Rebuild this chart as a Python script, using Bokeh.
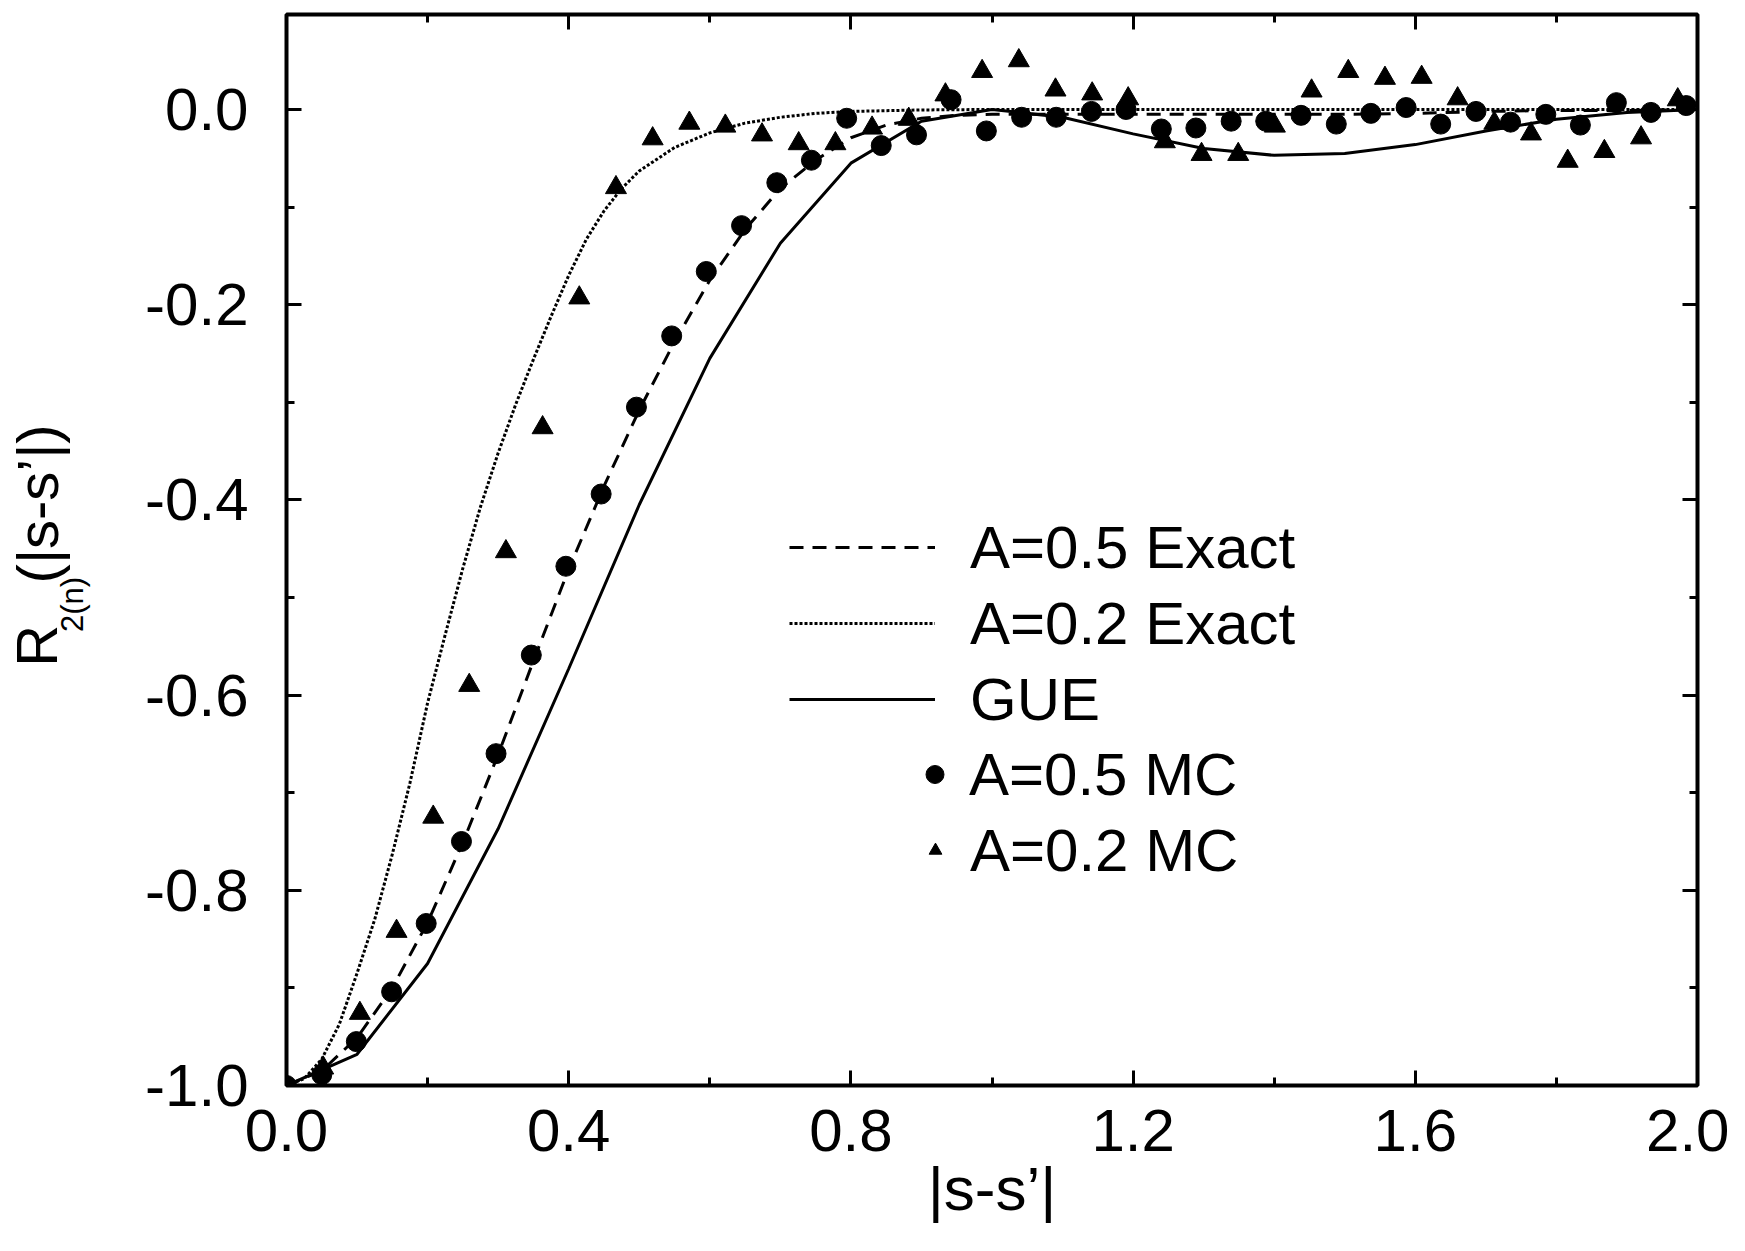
import math
from bokeh.plotting import figure
from bokeh.layouts import row
from bokeh.models import (Range1d, FixedTicker, LinearAxis, Legend, LegendItem,
                          CustomJSTickFormatter, NumeralTickFormatter, ColumnDataSource)
from bokeh.core.properties import value
from bokeh.embed import file_html
from bokeh.resources import INLINE

FONT = "Liberation Sans"

# ---------------- data ----------------
x_gue = [0.0, 0.1, 0.2, 0.3, 0.4, 0.5, 0.6, 0.7, 0.8, 0.9, 1.0,
         1.1, 1.2, 1.3, 1.4, 1.5, 1.6, 1.7, 1.8, 1.9, 2.0]
r_gue = [-1.0, -0.968, -0.875, -0.737, -0.573, -0.405, -0.255, -0.137, -0.055, -0.012, 0.0,
         -0.008, -0.025, -0.040, -0.047, -0.045, -0.036, -0.022, -0.010, -0.003, 0.0]

x_exact05 = [0.0, 0.05, 0.1, 0.15, 0.2, 0.25, 0.3, 0.35, 0.4, 0.45, 0.5, 0.55, 0.6, 0.65,
             0.7, 0.75, 0.8, 0.85, 0.9, 0.95, 1.0, 1.1, 1.2, 1.3, 1.4, 1.5, 1.6, 1.7, 1.8,
             1.9, 2.0]
r_exact05 = [-1.0, -0.985, -0.951, -0.900, -0.833, -0.751, -0.661, -0.565, -0.471, -0.386,
             -0.308, -0.238, -0.175, -0.123, -0.081, -0.052, -0.029, -0.016, -0.009, -0.006,
             -0.005, -0.005, -0.005, -0.005, -0.005, -0.005, -0.004, -0.002, -0.001, -0.001,
             0.0]

x_exact02 = [0.0, 0.025, 0.05, 0.075, 0.1, 0.125, 0.15, 0.175, 0.2, 0.225, 0.25, 0.275,
             0.3, 0.325, 0.35, 0.375, 0.4, 0.425, 0.45, 0.475, 0.5, 0.55, 0.6, 0.65, 0.7,
             0.75, 0.8, 0.9, 1.0, 1.5, 2.0]
r_exact02 = [-1.0, -0.993, -0.973, -0.937, -0.885, -0.830, -0.763, -0.690, -0.608, -0.538,
             -0.470, -0.407, -0.352, -0.302, -0.256, -0.212, -0.170, -0.133, -0.104, -0.081,
             -0.063, -0.039, -0.024, -0.014, -0.008, -0.004, -0.002, -0.0005, 0.0, 0.0, 0.0]

x_mc05 = [0.000, 0.050, 0.099, 0.149, 0.198, 0.248, 0.297, 0.347, 0.396, 0.446, 0.496,
          0.546, 0.595, 0.645, 0.695, 0.744, 0.794, 0.843, 0.893, 0.942, 0.992, 1.042,
          1.091, 1.141, 1.190, 1.240, 1.289, 1.339, 1.388, 1.438, 1.488, 1.537, 1.587,
          1.636, 1.686, 1.735, 1.785, 1.834, 1.885, 1.934, 1.984]
r_mc05 = [-1.000, -0.989, -0.955, -0.904, -0.834, -0.750, -0.660, -0.559, -0.468, -0.394,
          -0.305, -0.232, -0.166, -0.119, -0.075, -0.052, -0.009, -0.037, -0.026, 0.010,
          -0.022, -0.008, -0.008, -0.002, 0.000, -0.020, -0.019, -0.012, -0.012, -0.006,
          -0.015, -0.004, 0.002, -0.015, -0.002, -0.013, -0.005, -0.016, 0.007, -0.003,
          0.004]

x_mc02 = [0.000, 0.052, 0.104, 0.156, 0.208, 0.259, 0.311, 0.363, 0.415, 0.467, 0.519,
          0.571, 0.622, 0.674, 0.726, 0.778, 0.830, 0.882, 0.934, 0.986, 1.038, 1.090,
          1.142, 1.193, 1.245, 1.297, 1.349, 1.401, 1.453, 1.505, 1.557, 1.609, 1.660,
          1.712, 1.764, 1.816, 1.868, 1.920, 1.972]
r_mc02 = [-1.000, -0.982, -0.926, -0.842, -0.725, -0.590, -0.453, -0.326, -0.193, -0.080,
          -0.030, -0.014, -0.017, -0.026, -0.035, -0.035, -0.019, -0.010, 0.015, 0.039,
          0.050, 0.020, 0.016, 0.011, -0.033, -0.046, -0.046, -0.017, 0.019, 0.039, 0.032,
          0.033, 0.011, -0.014, -0.025, -0.053, -0.043, -0.029, 0.010]

x_ticks = [0.0, 0.4, 0.8, 1.2, 1.6, 2.0]
x_tick_labels = ["0.0", "0.4", "0.8", "1.2", "1.6", "2.0"]
x_minor = [0.2, 0.6, 1.0, 1.4, 1.8]
y_ticks = [-1.0, -0.8, -0.6, -0.4, -0.2, 0.0]
y_tick_labels = ["-1.0", "-0.8", "-0.6", "-0.4", "-0.2", "0.0"]
y_minor = [-0.9, -0.7, -0.5, -0.3, -0.1]

series_labels = ["A=0.5 Exact", "A=0.2 Exact", "GUE", "A=0.5 MC", "A=0.2 MC"]
x_title = "|s-s\u2019|"
y_title_parts = ["R", "2(n)", "(|s-s\u2019|)"]

TOTAL_W, TOTAL_H = 1729, 1235
TITLE_W = 110          # narrow strip at the left that carries the y-axis title

# ---------------- y-axis title strip (pixel coordinates) ----------------
pt = figure(width=TITLE_W, height=TOTAL_H, x_range=Range1d(0, TITLE_W),
            y_range=Range1d(0, TOTAL_H), output_backend="svg", toolbar_location=None,
            x_axis_location=None, y_axis_location=None, min_border=0)
pt.outline_line_color = None
pt.xgrid.visible = False
pt.ygrid.visible = False
pt.background_fill_color = "white"
pt.border_fill_color = "white"
title_src = ColumnDataSource(dict(
    x=[36, 72, 37],
    y=[TOTAL_H - 752, TOTAL_H - 712, TOTAL_H - 656],
    text=y_title_parts,
    size=["58px", "31px", "58px"],
))
pt.text(x="x", y="y", text="text", source=title_src, angle=math.pi / 2,
        text_font=value(FONT), text_font_size="size", text_align="left",
        text_baseline="alphabetic", text_color="black")

# ---------------- main figure ----------------
p = figure(width=TOTAL_W - TITLE_W, height=TOTAL_H, x_range=Range1d(0, 2.0),
           y_range=Range1d(-1.0, 0.0973), output_backend="svg", toolbar_location=None,
           min_border_left=286 - TITLE_W, min_border_right=32, min_border_top=14,
           min_border_bottom=150)
p.background_fill_color = "white"
p.border_fill_color = "white"
p.outline_line_color = "black"
p.outline_line_width = 4
p.xgrid.visible = False
p.ygrid.visible = False


def style_axis(ax):
    ax.axis_line_color = None
    ax.major_tick_in = 15
    ax.major_tick_out = 0
    ax.minor_tick_in = 8
    ax.minor_tick_out = 0
    ax.major_tick_line_width = 3
    ax.minor_tick_line_width = 3
    ax.major_tick_line_color = "black"
    ax.minor_tick_line_color = "black"
    ax.major_label_text_font = FONT
    ax.major_label_text_font_size = "60px"
    ax.major_label_text_color = "black"
    ax.major_label_text_font_style = "normal"


xt = FixedTicker(ticks=x_ticks, minor_ticks=x_minor)
yt = FixedTicker(ticks=y_ticks, minor_ticks=y_minor)

xa = p.xaxis[0]
xa.ticker = xt
xa.formatter = NumeralTickFormatter(format="0.0")
xa.major_label_overrides = dict(zip(x_ticks, x_tick_labels))
style_axis(xa)
xa.major_label_standoff = 24
xa.axis_label = x_title
xa.axis_label_text_font = FONT
xa.axis_label_text_font_size = "62px"
xa.axis_label_text_font_style = "normal"
xa.axis_label_text_color = "black"
xa.axis_label_standoff = 0

ya = p.yaxis[0]
ya.ticker = yt
ya.formatter = NumeralTickFormatter(format="0.0")
ya.major_label_overrides = dict(zip(y_ticks, y_tick_labels))
style_axis(ya)
ya.major_label_standoff = 38

blank = CustomJSTickFormatter(code="return ''")
top = LinearAxis(ticker=xt, formatter=blank, major_label_standoff=0)
style_axis(top)
p.add_layout(top, "above")
right = LinearAxis(ticker=yt, formatter=blank, major_label_standoff=0)
style_axis(right)
p.add_layout(right, "right")

# ---------------- series ----------------
r_dash = p.line(x_exact05, r_exact05, line_color="black", line_width=3, line_dash="14 9")
r_dot = p.line(x_exact02, r_exact02, line_color="black", line_width=3, line_dash="3 2")
r_sol = p.line(x_gue, r_gue, line_color="black", line_width=3)
r_circ = p.scatter(x_mc05, r_mc05, marker="circle", size=20, color="black")
r_tri = p.scatter(x_mc02, r_mc02, marker="triangle", size=21, color="black")


def make_legend(items, loc, gw, standoff):
    lg = Legend(items=items, location=loc, glyph_width=gw, glyph_height=76,
                label_height=76, spacing=0, padding=0, margin=0,
                label_standoff=standoff, border_line_color=None,
                background_fill_alpha=0, label_text_font=FONT,
                label_text_font_size="60px", label_text_color="black",
                label_text_baseline="middle")
    p.add_layout(lg)
    return lg


make_legend([LegendItem(label=series_labels[0], renderers=[r_dash]),
             LegendItem(label=series_labels[1], renderers=[r_dot]),
             LegendItem(label=series_labels[2], renderers=[r_sol])], (503, 348), 146, 35)
make_legend([LegendItem(label=series_labels[3], renderers=[r_circ])], (626, 273), 45, 12)
make_legend([LegendItem(label=series_labels[4], renderers=[r_tri])], (633, 197), 32, 19)

open("out.html", "w").write(file_html(row(pt, p), INLINE))
